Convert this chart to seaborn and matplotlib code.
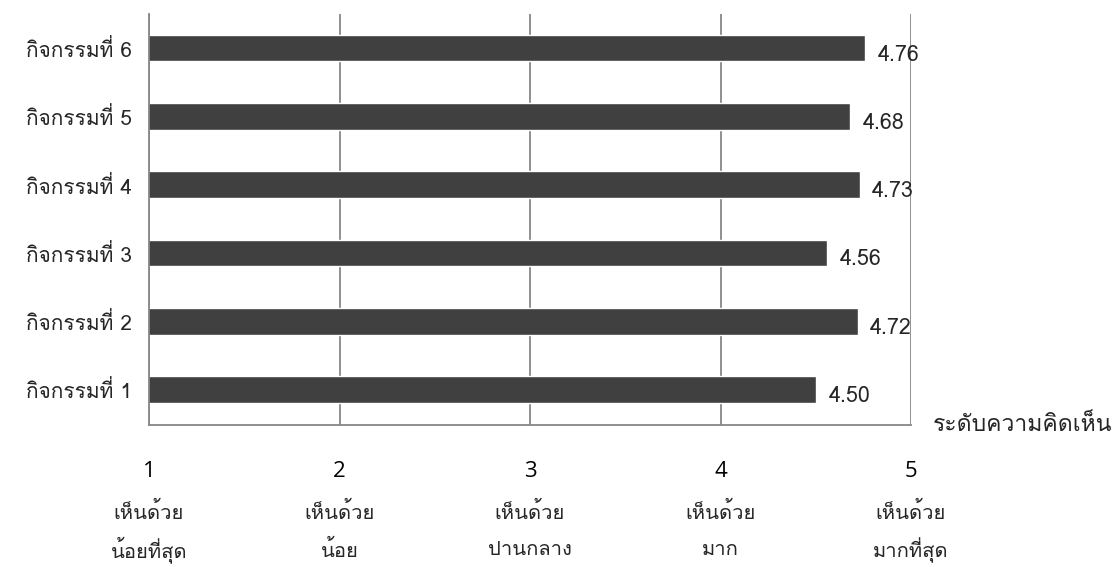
import matplotlib
matplotlib.use("Agg")
import matplotlib.pyplot as plt
import seaborn as sns
from matplotlib.transforms import blended_transform_factory

# --- data ---
activities = ["กิจกรรมที่ 6", "กิจกรรมที่ 5", "กิจกรรมที่ 4",
              "กิจกรรมที่ 3", "กิจกรรมที่ 2", "กิจกรรมที่ 1"]
scores = [4.76, 4.68, 4.73, 4.56, 4.72, 4.50]
scale_ticks = [1, 2, 3, 4, 5]
scale_line1 = ["เห็นด้วย", "เห็นด้วย", "เห็นด้วย", "เห็นด้วย", "เห็นด้วย"]
scale_line2 = ["น้อยที่สุด", "น้อย", "ปานกลาง", "มาก", "มากที่สุด"]
axis_title = "ระดับความคิดเห็น"

sns.set_theme(style="white")
# Loma は ่ などの声調記号を上に積んで描ける（Sarabun だと重なって消える）
plt.rcParams["font.family"] = ["Loma", "DejaVu Sans"]

GRAY = "#878787"
TXT = "#262626"
NUM_FONT = ["Open Sans", "DejaVu Sans"]

fig = plt.figure(figsize=(11.18, 5.67), dpi=100)
ax = fig.add_axes([0.1333, 0.2504, 0.6816, 0.7249])

sns.barplot(x=scores, y=activities, orient="h", color="#404040",
            width=0.39, saturation=1, ax=ax)
ax.set_xlim(1, 5)
ax.set_ylim(5.52, -0.5)

# 値ラベル（棒の右端、少し下げる）
for i, v in enumerate(scores):
    ax.annotate(f"{v:.2f}", (v, i), xytext=(9, -5), textcoords="offset points",
                ha="left", va="center", fontsize=15.5, color=TXT)

ax.set_xticks(scale_ticks)
ax.set_xticklabels([str(t) for t in scale_ticks], family=NUM_FONT,
                   fontsize=16, color="black")
ax.tick_params(axis="x", direction="out", length=8, width=1.3, color=GRAY, pad=18)
ax.tick_params(axis="y", length=0, pad=12, labelsize=15, labelcolor=TXT)

ax.xaxis.grid(True, color=GRAY, lw=1.3)
ax.yaxis.grid(False)
ax.set_axisbelow(True)
for side in ["top", "right"]:
    ax.spines[side].set_visible(False)
for side in ["left", "bottom"]:
    ax.spines[side].set_color(GRAY)
    ax.spines[side].set_linewidth(1.3)
ax.set_xlabel("")
ax.set_ylabel("")

# 目盛りの説明（2 行）
tr = blended_transform_factory(ax.transData, fig.transFigure)
for x, l1, l2 in zip(scale_ticks, scale_line1, scale_line2):
    ax.text(x, 0.097, l1, transform=tr, ha="center", va="center",
            fontsize=14.5, color=TXT)
    ax.text(x, 0.030, l2, transform=tr, ha="center", va="center",
            fontsize=14.5, color=TXT)

ax.text(1.028, 0.0, axis_title, transform=ax.transAxes, ha="left", va="center",
        fontsize=16.5, color=TXT)

fig.savefig("out.png", dpi=100)
